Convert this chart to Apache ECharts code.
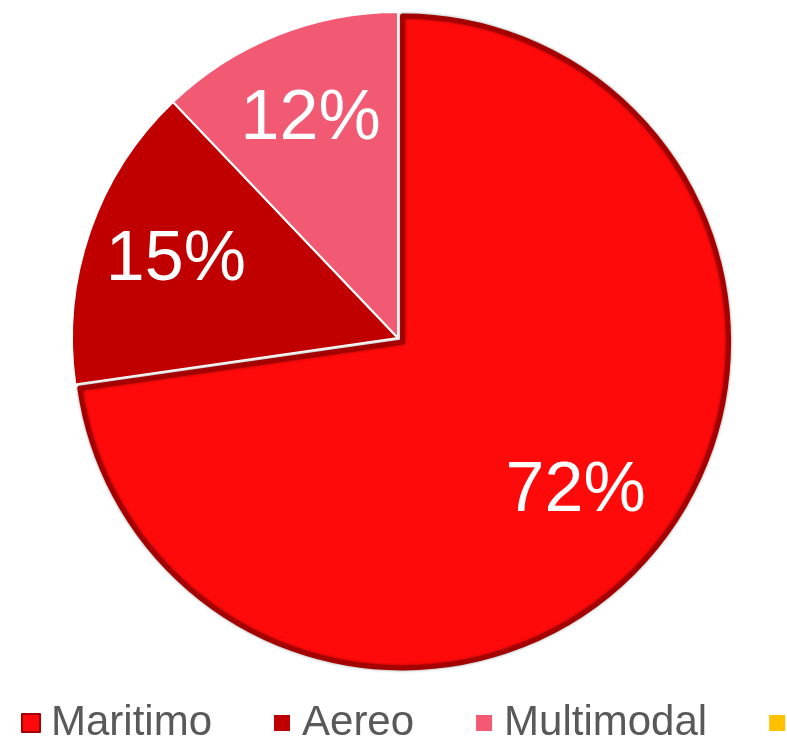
<!DOCTYPE html>
<html lang="es">
<head>
    <meta charset="UTF-8">
    <title>Maritimo / Aereo / Multimodal</title>
    <script src="https://cdn.jsdelivr.net/npm/echarts@6/dist/echarts.min.js"></script>
    <style>
        html, body { margin: 0; padding: 0; background: #fff; }
    </style>
</head>
<body>
<div id="main" style="width: 787px;height:740px;"></div>

<script type="text/javascript">
    // datos
    var categories = ['Maritimo', 'Aereo', 'Multimodal', ' '];
    var values = [72, 15, 12, 0];
    var colors = ['#ff0a0a', '#c00000', '#f25a74', '#ffc000'];

    var myChart = echarts.init(document.getElementById('main'));

    var pieData = categories.map(function (name, i) {
        var item = {
            name: name,
            value: values[i],
            itemStyle: { color: colors[i] }
        };
        if (i === 0) {
            // el sector grande va un poco separado y con borde oscuro
            item.selected = true;
            item.itemStyle.borderColor = '#a40000';
            item.itemStyle.borderWidth = 5;
            item.itemStyle.shadowColor = 'rgba(0,0,0,0.45)';
            item.itemStyle.shadowBlur = 3;
        }
        return item;
    });

    var labelData = categories.map(function (name, i) {
        return { name: name, value: values[i], selected: i === 0 };
    });

    var option = {
        animation: false,
        color: colors,
        legend: {
            data: categories,
            left: 16,
            top: 697,
            width: 1400,
            itemWidth: 18,
            itemHeight: 18,
            itemGap: 60,
            icon: 'rect',
            textStyle: {
                fontFamily: 'Liberation Sans, Arial, sans-serif',
                fontSize: 42,
                color: '#595959',
                padding: [0, 0, 0, 6]
            }
        },
        series: [
            {
                name: 'main',
                type: 'pie',
                center: [398, 338],
                radius: [0, 326],
                startAngle: 90,
                clockwise: true,
                selectedMode: 'multiple',
                selectedOffset: 6,
                silent: true,
                itemStyle: { borderColor: '#fff', borderWidth: 2 },
                label: { show: false },
                labelLine: { show: false },
                data: pieData
            },
            {
                // capa transparente solo para colocar las etiquetas
                name: 'labels',
                type: 'pie',
                center: [398, 338],
                radius: [138, 326],
                startAngle: 90,
                clockwise: true,
                selectedMode: 'multiple',
                selectedOffset: 0,
                silent: true,
                itemStyle: { color: 'rgba(0,0,0,0)', borderWidth: 0 },
                label: {
                    show: true,
                    position: 'inside',
                    fontFamily: 'Liberation Sans, Arial, sans-serif',
                    fontSize: 70,
                    color: '#fff',
                    formatter: function (p) {
                        return p.value ? p.value + '%' : '';
                    }
                },
                labelLine: { show: false },
                data: labelData
            }
        ]
    };
    myChart.setOption(option);
</script>
</body>
</html>
